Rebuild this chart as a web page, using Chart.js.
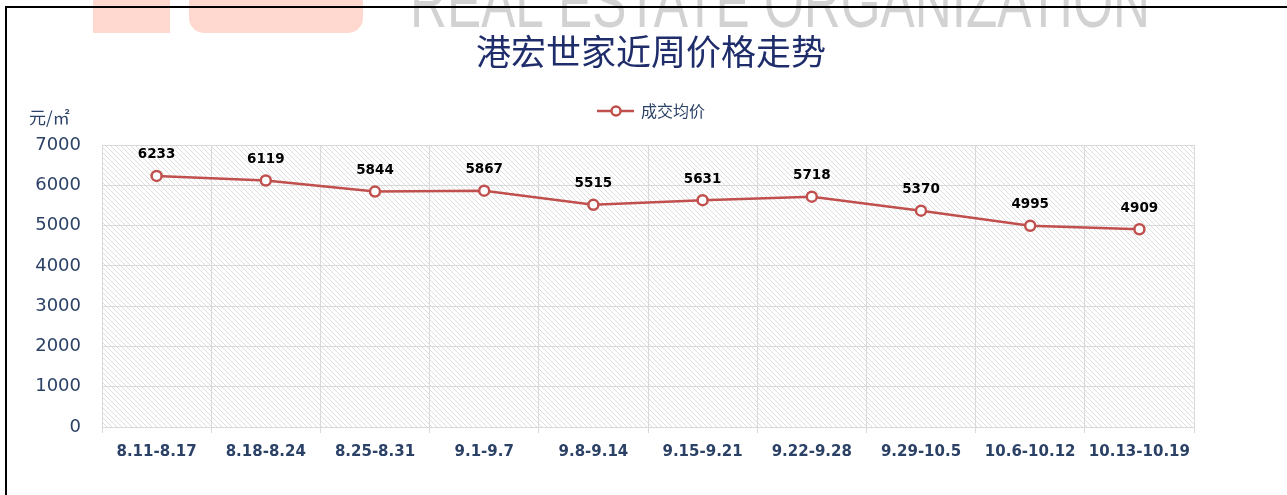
<!DOCTYPE html>
<html>
<head>
<meta charset="utf-8">
<script src="https://cdn.jsdelivr.net/npm/chart.js@4/dist/chart.umd.min.js"></script>
<style>
    html, body { margin: 0; padding: 0; background: #fff; }
    #wrap { width: 1287px; height: 495px; }
</style>
</head>
<body>
<div id="wrap"><canvas id="priceChart"></canvas></div>
<script>
// Chart data
const weeks = ['8.11-8.17', '8.18-8.24', '8.25-8.31', '9.1-9.7', '9.8-9.14',
    '9.15-9.21', '9.22-9.28', '9.29-10.5', '10.6-10.12', '10.13-10.19'];
const avgPrice = [6233, 6119, 5844, 5867, 5515, 5631, 5718, 5370, 4995, 4909];
const seriesName = '成交均价';
const chartTitle = '港宏世家近周价格走势';
const unitLabel = '元/㎡';
const watermarkText = 'REAL ESTATE ORGANIZATION';

const lineColor = '#c0504d';
const navy = '#2b4166';

// Diagonal hatch used behind the plot
function makeHatch() {
    const c = document.createElement('canvas');
    c.width = 5;
    c.height = 5;
    const g = c.getContext('2d');
    g.strokeStyle = '#dedede';
    g.lineWidth = 1;
    for (let k = -1; k <= 1; k++) {
        g.beginPath();
        g.moveTo(k * 5, 0);
        g.lineTo(k * 5 + 5, 5);
        g.stroke();
    }
    return c;
}

const decorPlugin = {
    id: 'decor',
    beforeDraw(chart) {
        const ctx = chart.ctx;
        const area = chart.chartArea;
        ctx.save();
        ctx.fillStyle = '#fff';
        ctx.fillRect(0, 0, chart.width, chart.height);

        // Watermark shapes at the top
        ctx.fillStyle = '#ffd8cf';
        ctx.fillRect(93, 0, 77, 33);
        ctx.beginPath();
        ctx.roundRect(189, -20, 174, 53, 15);
        ctx.fill();

        ctx.fillStyle = '#d2d2d2';
        ctx.font = '72px "Liberation Sans"';
        ctx.textBaseline = 'alphabetic';
        const w = ctx.measureText(watermarkText).width;
        ctx.translate(410, 27);
        ctx.scale(740 / w, 1);
        ctx.fillText(watermarkText, 0, 0);
        ctx.setTransform(1, 0, 0, 1, 0, 0);

        // Frame
        ctx.strokeStyle = '#000';
        ctx.lineWidth = 2;
        ctx.beginPath();
        ctx.moveTo(6, chart.height);
        ctx.lineTo(6, 7);
        ctx.lineTo(chart.width, 7);
        ctx.stroke();

        // Hatched plot background
        ctx.fillStyle = ctx.createPattern(makeHatch(), 'repeat');
        ctx.fillRect(area.left, area.top, area.right - area.left, area.bottom - area.top);

        // Title
        ctx.fillStyle = '#1f2d6b';
        ctx.font = '35px "Noto Sans CJK SC"';
        ctx.textAlign = 'center';
        ctx.textBaseline = 'middle';
        ctx.fillText(chartTitle, 651, 52);

        // Unit label
        ctx.fillStyle = navy;
        ctx.font = '17px "Noto Sans CJK SC"';
        ctx.textAlign = 'left';
        ctx.fillText(unitLabel, 29, 118);

        // Legend
        ctx.strokeStyle = lineColor;
        ctx.lineWidth = 2.5;
        ctx.beginPath();
        ctx.moveTo(597, 111);
        ctx.lineTo(634, 111);
        ctx.stroke();
        ctx.fillStyle = '#fff';
        ctx.beginPath();
        ctx.arc(616, 111, 4.5, 0, Math.PI * 2);
        ctx.fill();
        ctx.stroke();
        ctx.fillStyle = navy;
        ctx.font = '16px "Noto Sans CJK SC"';
        ctx.fillText(seriesName, 641, 111);
        ctx.restore();
    },
    afterDatasetsDraw(chart) {
        const ctx = chart.ctx;
        const meta = chart.getDatasetMeta(0);
        ctx.save();
        ctx.fillStyle = '#000';
        ctx.font = 'bold 13.5px "DejaVu Sans"';
        ctx.textAlign = 'center';
        ctx.textBaseline = 'middle';
        meta.data.forEach((pt, i) => {
            ctx.fillText(String(avgPrice[i]), pt.x, pt.y - 21);
        });
        ctx.restore();
    }
};

new Chart(document.getElementById('priceChart'), {
    type: 'line',
    data: {
        labels: weeks,
        datasets: [{
            label: seriesName,
            data: avgPrice,
            borderColor: lineColor,
            borderWidth: 2.5,
            pointRadius: 5,
            pointHoverRadius: 5,
            pointBorderWidth: 2.5,
            pointBackgroundColor: '#fff',
            pointBorderColor: lineColor,
            tension: 0
        }]
    },
    options: {
        responsive: true,
        maintainAspectRatio: false,
        animation: false,
        devicePixelRatio: 1,
        layout: { padding: { top: 145, right: 93, left: 0, bottom: 0 } },
        plugins: {
            legend: { display: false },
            title: { display: false },
            tooltip: { enabled: false }
        },
        scales: {
            x: {
                offset: true,
                grid: { offset: true, color: '#d9d9d9', tickLength: 6 },
                border: { color: '#d9d9d9' },
                ticks: {
                    color: navy,
                    font: { family: 'DejaVu Sans', size: 15, weight: 'bold' },
                    padding: 10,
                    maxRotation: 0,
                    autoSkip: false
                },
                afterFit(scale) { scale.height = 68; }
            },
            y: {
                min: 0,
                max: 7000,
                ticks: {
                    stepSize: 1000,
                    color: navy,
                    font: { family: 'DejaVu Sans', size: 18 },
                    padding: 21,
                    callback: v => String(v)
                },
                grid: { color: '#d9d9d9', drawTicks: false },
                border: { display: false },
                afterFit(scale) { scale.width = 102; }
            }
        }
    },
    plugins: [decorPlugin]
});
</script>
</body>
</html>
